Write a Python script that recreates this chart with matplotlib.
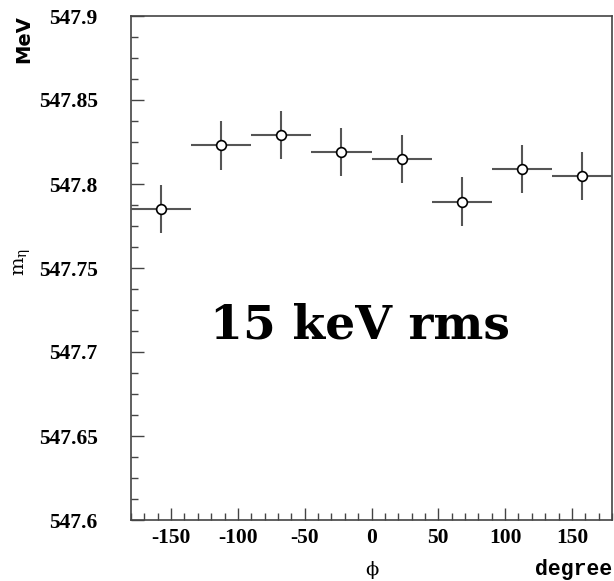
import numpy as np
import matplotlib.pyplot as plt
from matplotlib.ticker import MultipleLocator

plt.rcParams['axes.unicode_minus'] = False

# bin centres (degree) and fitted eta mass (MeV)
phi = [-157.5, -112.5, -67.5, -22.5, 22.5, 67.5, 112.5, 157.5]
phi_err = [22.5, 22.5, 22.5, 22.5, 22.5, 22.5, 22.5, 22.5]
m_eta = [547.785, 547.823, 547.829, 547.819, 547.815, 547.7895, 547.809, 547.8046]
m_err = [0.0144, 0.0144, 0.0143, 0.0144, 0.0144, 0.0144, 0.0143, 0.0144]
ylabels = ['547.6', '547.65', '547.7', '547.75', '547.8', '547.85', '547.9']

W, H = 614, 581
fig = plt.figure(figsize=(W / 100, H / 100), dpi=100)
ax = fig.add_axes([131 / W, 61 / H, 481 / W, 504 / H])

ax.errorbar(phi, m_eta, xerr=phi_err, yerr=m_err, fmt='o', ms=7,
            mfc='white', mec='black', mew=1.2, ecolor='#555555',
            elinewidth=1.5, capsize=0, zorder=3)

ax.set_xlim(-180, 180)
ax.set_ylim(547.6, 547.9)
ax.xaxis.set_major_locator(MultipleLocator(50))
ax.xaxis.set_minor_locator(MultipleLocator(10))
ax.set_yticks([float(v) for v in ylabels])
ax.set_yticklabels(ylabels)
ax.yaxis.set_minor_locator(MultipleLocator(0.0125))
ax.tick_params(which='both', direction='in', top=False, right=False,
               color='#444444')
ax.tick_params(which='major', length=9, width=1)
ax.tick_params(which='minor', length=5, width=1)
ax.tick_params(axis='y', pad=24)
ax.tick_params(axis='x', pad=6)
for s in ax.spines.values():
    s.set_color('#444444')
    s.set_linewidth(1.2)

for lab in ax.get_xticklabels() + ax.get_yticklabels():
    lab.set_fontfamily('Liberation Serif')
    lab.set_fontweight('bold')
    lab.set_fontsize(15.5)

ax.text((360 - 131) / 481, 0.385, '15 keV rms', transform=ax.transAxes,
        ha='center', va='center', family='DejaVu Serif', weight='bold',
        size=34)

fig.text(24 / W, 1 - 39 / H, 'MeV', rotation=90, ha='center', va='center',
         family='DejaVu Sans', weight='bold', size=14)
fig.text(23 / W, 1 - 262 / H, 'm$_\\mathregular{\u03b7}$', rotation=90,
         ha='center', va='center', family='DejaVu Serif', size=14)
fig.text(372 / W, 1 - 570 / H, '\u03d5', ha='center', va='center',
         family='DejaVu Serif', size=14)
fig.text(612 / W, 1 - 570 / H, 'degree', ha='right', va='center',
         family='Liberation Mono', weight='bold', size=15.5)

fig.savefig('out.png', dpi=100)
